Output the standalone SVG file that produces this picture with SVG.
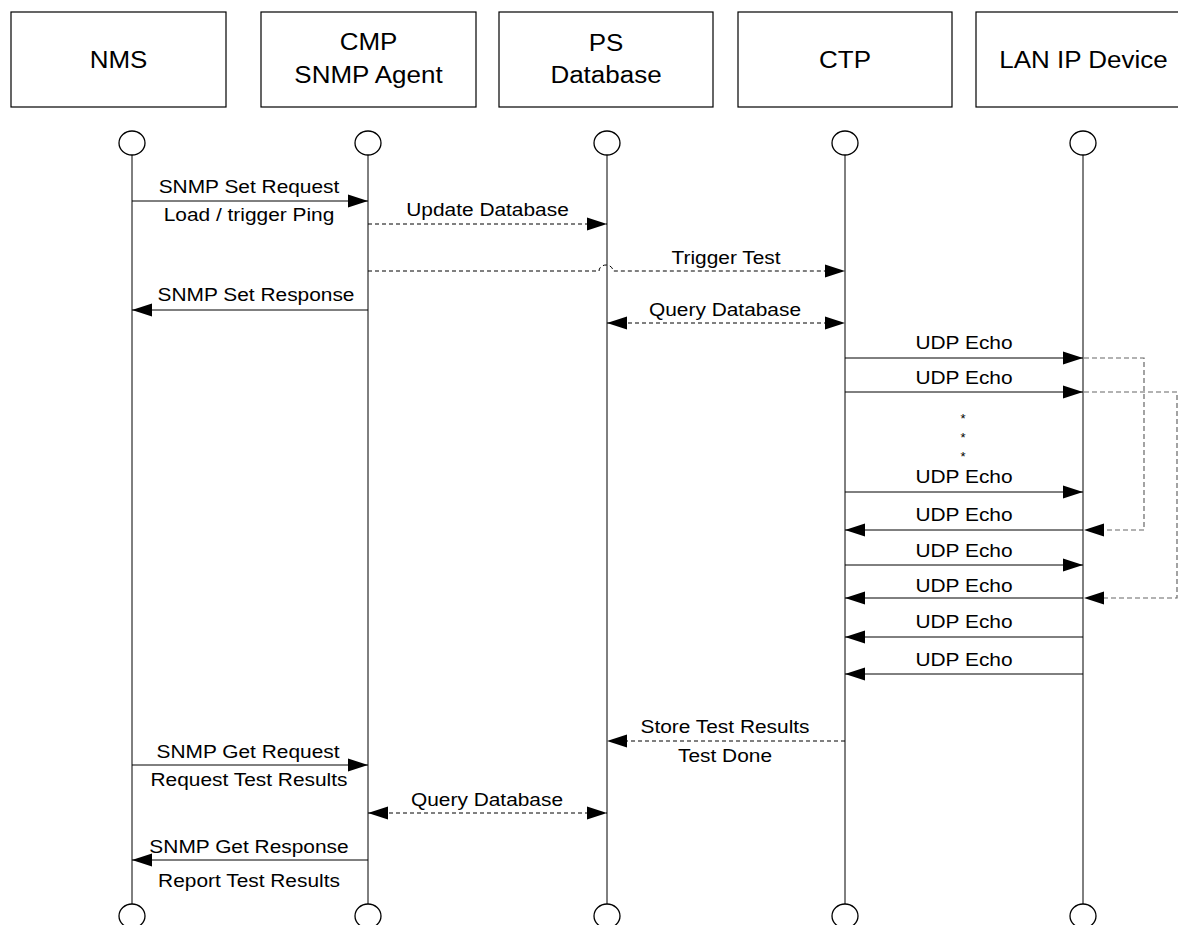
<svg xmlns="http://www.w3.org/2000/svg" width="1178" height="925" viewBox="0 0 1178 925">
<defs>
<marker id="ah" markerUnits="userSpaceOnUse" markerWidth="20" markerHeight="14" refX="20" refY="7" orient="auto-start-reverse">
<path d="M0,0.5 L20,7 L0,13.5 z" fill="#000"/>
</marker>
<style>
.box{fill:#fff;stroke:#000;stroke-width:1.2}
.ll{fill:none;stroke:#000;stroke-width:1}
.cir{fill:#fff;stroke:#000;stroke-width:1.3}
.hd{font-family:"Liberation Sans",Arial,sans-serif;font-size:23px;text-anchor:middle;fill:#000}
.lb{font-family:"Liberation Sans",Arial,sans-serif;font-size:18.5px;text-anchor:middle;fill:#000}
.st{font-family:"Liberation Sans",Arial,sans-serif;font-size:13px;text-anchor:middle;fill:#000}
.sol{fill:none;stroke:#000;stroke-width:1;marker-end:url(#ah)}
.dsh{fill:none;stroke:#000;stroke-width:1;stroke-dasharray:4,3;marker-end:url(#ah)}
.dbl{fill:none;stroke:#000;stroke-width:1;stroke-dasharray:4,3;marker-end:url(#ah);marker-start:url(#ah)}
.loop{fill:none;stroke:#666;stroke-width:1.2;stroke-dasharray:5,3}
</style>
</defs>
<rect width="1178" height="925" fill="#fff"/>

<g id="nms">
<rect class="box" x="11" y="12" width="215" height="95"/>
<text class="hd" transform="matrix(1.13 0 0 1 118.5 68)">NMS</text>
<line class="ll" x1="132" y1="155" x2="132" y2="904"/>
<ellipse class="cir" cx="132" cy="143" rx="13" ry="12"/>
<ellipse class="cir" cx="132" cy="916" rx="13" ry="12"/>
</g>

<g id="cmp">
<rect class="box" x="261" y="12" width="215" height="95"/>
<text class="hd" transform="matrix(1.13 0 0 1 368.5 50)">CMP</text>
<text class="hd" transform="matrix(1.13 0 0 1 368.5 83)">SNMP Agent</text>
<line class="ll" x1="368" y1="155" x2="368" y2="904"/>
<ellipse class="cir" cx="368" cy="143" rx="13" ry="12"/>
<ellipse class="cir" cx="368" cy="916" rx="13" ry="12"/>
</g>

<g id="ps">
<rect class="box" x="499" y="12" width="214" height="95"/>
<text class="hd" transform="matrix(1.13 0 0 1 606 51)">PS</text>
<text class="hd" transform="matrix(1.13 0 0 1 606 83)">Database</text>
<line class="ll" x1="607" y1="155" x2="607" y2="904"/>
<ellipse class="cir" cx="607" cy="143" rx="13" ry="12"/>
<ellipse class="cir" cx="607" cy="916" rx="13" ry="12"/>
</g>

<g id="ctp">
<rect class="box" x="738" y="12" width="214" height="95"/>
<text class="hd" transform="matrix(1.13 0 0 1 845 68)">CTP</text>
<line class="ll" x1="845" y1="155" x2="845" y2="904"/>
<ellipse class="cir" cx="845" cy="143" rx="13" ry="12"/>
<ellipse class="cir" cx="845" cy="916" rx="13" ry="12"/>
</g>

<g id="lan">
<rect class="box" x="976" y="12" width="215" height="95"/>
<text class="hd" transform="matrix(1.13 0 0 1 1083.5 68)">LAN IP Device</text>
<line class="ll" x1="1083" y1="155" x2="1083" y2="904" stroke="#555"/>
<ellipse class="cir" cx="1083" cy="143" rx="13" ry="12"/>
<ellipse class="cir" cx="1083" cy="916" rx="13" ry="12"/>
</g>

<g id="connectors">
<path class="sol" d="M132,201 H368"/>
<path class="dsh" d="M368,224 H607"/>
<path class="dsh" d="M368,271 H599 A7,6 0 0 1 613,271 H845"/>
<path class="sol" d="M368,310 H132"/>
<path class="dbl" d="M607,323 H845"/>

<path class="sol" d="M845,358 H1083"/>
<path class="sol" d="M845,392 H1083"/>
<path class="sol" d="M845,492 H1083"/>
<path class="sol" d="M1083,530 H845"/>
<path class="sol" d="M845,565 H1083"/>
<path class="sol" d="M1083,598 H845"/>
<path class="sol" d="M1083,637 H845"/>
<path class="sol" d="M1083,674 H845"/>

<path class="loop" d="M1084,358 H1144 V530 H1104"/>
<path d="M1104,523.5 L1084,530 L1104,536.5 z" fill="#000"/>
<path class="loop" d="M1084,392 H1177 V598 H1104"/>
<path d="M1104,591.5 L1084,598 L1104,604.5 z" fill="#000"/>

<path class="dsh" d="M845,741 H607"/>
<path class="sol" d="M132,765 H368"/>
<path class="dbl" d="M368,813 H607"/>
<path class="sol" d="M368,860 H132"/>
</g>

<g id="labels">
<text class="lb" transform="matrix(1.13 0 0 1 249 193)">SNMP Set Request</text>
<text class="lb" transform="matrix(1.13 0 0 1 249 221)">Load / trigger Ping</text>
<text class="lb" transform="matrix(1.13 0 0 1 487.5 216)">Update Database</text>
<text class="lb" transform="matrix(1.13 0 0 1 726 264)">Trigger Test</text>
<text class="lb" transform="matrix(1.13 0 0 1 256 301)">SNMP Set Response</text>
<text class="lb" transform="matrix(1.13 0 0 1 725 316)">Query Database</text>
<text class="lb" transform="matrix(1.13 0 0 1 964 349)">UDP Echo</text>
<text class="lb" transform="matrix(1.13 0 0 1 964 384)">UDP Echo</text>
<text class="st" x="963" y="423">*</text>
<text class="st" x="963" y="442">*</text>
<text class="st" x="963" y="461">*</text>
<text class="lb" transform="matrix(1.13 0 0 1 964 483)">UDP Echo</text>
<text class="lb" transform="matrix(1.13 0 0 1 964 521)">UDP Echo</text>
<text class="lb" transform="matrix(1.13 0 0 1 964 557)">UDP Echo</text>
<text class="lb" transform="matrix(1.13 0 0 1 964 592)">UDP Echo</text>
<text class="lb" transform="matrix(1.13 0 0 1 964 628)">UDP Echo</text>
<text class="lb" transform="matrix(1.13 0 0 1 964 666)">UDP Echo</text>
<text class="lb" transform="matrix(1.13 0 0 1 725 733)">Store Test Results</text>
<text class="lb" transform="matrix(1.13 0 0 1 725 762)">Test Done</text>
<text class="lb" transform="matrix(1.13 0 0 1 248 758)">SNMP Get Request</text>
<text class="lb" transform="matrix(1.13 0 0 1 249 786)">Request Test Results</text>
<text class="lb" transform="matrix(1.13 0 0 1 487 806)">Query Database</text>
<text class="lb" transform="matrix(1.13 0 0 1 249 853)">SNMP Get Response</text>
<text class="lb" transform="matrix(1.13 0 0 1 249 887)">Report Test Results</text>
</g>
</svg>
